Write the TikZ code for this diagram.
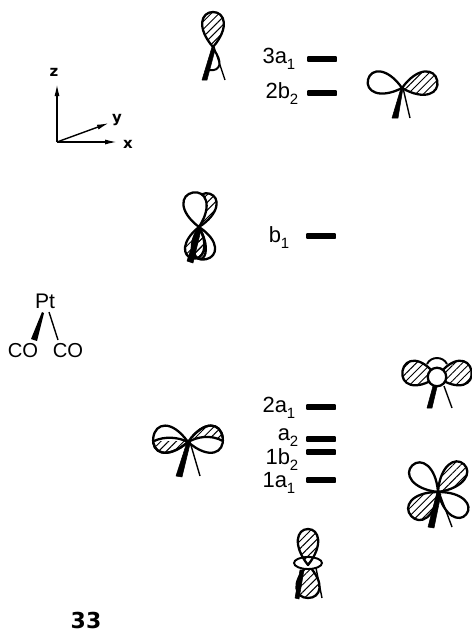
\documentclass[tikz,border=0pt]{standalone}
\usepackage{fontspec}
\setmainfont{Liberation Sans}
\newfontfamily\widefont{DejaVu Sans}
\usetikzlibrary{positioning, arrows.meta, patterns.meta}

% one lobe: base at the origin of the scope, pointing up
\newcommand{\lobe}[5][]{%
    \begin{scope}[shift={(#2)}, rotate=#3]
        \path[draw, line width=1.3pt, line join=round, #1] (0,0) .. controls (-#5*1.05,-#4*0.55) and (-#5*0.75,-#4) .. (0,-#4)
            .. controls (#5*0.75,-#4) and (#5*1.05,-#4*0.55) .. (0,0) -- cycle;
    \end{scope}}
\newcommand{\levsub}[1]{\lower3.5pt\hbox{\fontsize{8.5}{8.5}\selectfont #1}}

\begin{document}
\begin{tikzpicture}[
        x=0.02cm,
        y=-0.02cm,
        thick,
        hatched/.style={pattern={Lines[angle=45, distance=3.1pt, line width=0.55pt]}},
        blank/.style={fill=white},
        level/.style={rectangle, fill=black, rounded corners=0.5pt, minimum width=0.6cm, minimum height=0.115cm, inner sep=0pt},
        levlabel/.style={inner sep=0pt, font=\fontsize{12.5}{12.5}\selectfont, anchor=base east},
        axis/.style={draw, line width=0.8pt, -{Latex[length=0.24cm, width=0.1cm]}},
        axislabel/.style={inner sep=0pt, font=\fontsize{8.5}{8.5}\widefont\bfseries},
        atom/.style={inner sep=0pt, font=\fontsize{11.5}{11.5}\selectfont},
        thinleg/.style={draw, line width=0.8pt},
        thickleg/.style={fill=black, draw=black, line width=0.3pt, line join=round}
    ]
        \useasboundingbox (0,0) rectangle (472,633);

        % Axes
        \coordinate (Origin) at (57,142);
        \node[axislabel] (AxisZ) at (54,72) {z};
        \node[axislabel] (AxisY) at (117,120) {y};
        \node[axislabel] (AxisX) at (128,144) {x};
        \draw[axis] (Origin) -- (57,84);
        \draw[axis] (Origin) -- (109,123);
        \draw[axis] (Origin) -- (117,142);

        % Molecule
        \node[atom, font=\fontsize{12}{12}\selectfont] (Pt) at (45,301) {Pt};
        \node[atom] (COleft) at (23,351) {CO};
        \node[atom] (COright) at (68,351) {CO};
        \fill (42,312) -- (44,313) -- (37,341) -- (31,339) -- cycle;
        \draw[thinleg] (49,312) -- (58,340);

        % Levels
        \node[level] (L3a) at (322,59) {};
        \node[level] (L2b) at (322,93) {};
        \node[level] (Lb) at (321,236) {};
        \node[level] (L2a) at (321,407) {};
        \node[level] (La) at (321,439) {};
        \node[level] (L1b) at (321,452) {};
        \node[level] (L1a) at (321,480) {};
        \node[levlabel] (T3a) at (296,63) {3a\levsub{1}};
        \node[levlabel] (T2b) at (299,98) {2b\levsub{2}};
        \node[levlabel] (Tb) at (290,242) {b\levsub{1}};
        \node[levlabel] (T2a) at (296,412) {2a\levsub{1}};
        \node[levlabel] (Ta) at (299,440) {a\levsub{2}};
        \node[levlabel] (T1b) at (299,464) {1b\levsub{2}};
        \node[levlabel] (T1a) at (296,487) {1a\levsub{1}};

        % 3a1
        \draw[line width=1.1pt] (214,50) .. controls (222,60) and (222,72) .. (209,70);
        \lobe[hatched]{213,47}{0}{35}{16}
        \fill[thickleg] (212,47) -- (215,50) -- (207,80) -- (202,80) -- cycle;
        \draw[thinleg] (214,47) -- (225,80);

        % 2b2
        \lobe[blank]{402,88}{76}{35}{16}
        \lobe[hatched]{402,88}{-78}{36}{17}
        \fill[thickleg] (401,88) -- (403,88) -- (398,118) -- (392,118) -- cycle;
        \draw[thinleg] (403,88) -- (410,118);

        % b1
        \lobe[hatched]{199,227}{-18}{35}{15}
        \lobe[blank]{199,227}{10}{35}{17}
        \lobe[blank]{199,227}{192}{33}{17}
        \lobe[hatched]{199,227}{168}{32}{14}
        \lobe[hatched]{199,227}{182}{32}{9}
        \fill[thickleg] (198,227) -- (201,230) -- (193,263) -- (187,261) -- cycle;

        % a2
        \lobe[blank]{188,442}{83}{35}{20}
        \lobe[blank]{188,442}{-83}{35}{20}
        \begin{scope}
            \clip (150,441) rectangle (188,465);
            \lobe[hatched]{188,442}{83}{35}{20}
        \end{scope}
        \begin{scope}
            \clip (188,420) rectangle (226,437);
            \lobe[hatched]{188,442}{-83}{35}{20}
        \end{scope}
        \draw[line width=1.3pt] (154,441) .. controls (165,436) and (178,437) .. (188,442)
            .. controls (197,437) and (210,434) .. (223,441);
        \fill[thickleg] (187,442) -- (190,444) -- (182,477) -- (176,476) -- cycle;
        \draw[thinleg] (190,442) -- (200,476);

        % 2a1
        \draw[line width=1.1pt] (427,364) .. controls (431,356) and (443,356) .. (447,364);
        \lobe[hatched]{437,377}{80}{35}{18}
        \lobe[hatched]{437,377}{-80}{35}{18}
        \node[circle, draw, fill=white, line width=1.3pt, minimum size=0.37cm, inner sep=0pt] (Ring) at (437,377) {};
        \fill[thickleg] (433,386) -- (437,387) -- (432,408) -- (427,408) -- cycle;
        \draw[thinleg] (444,386) -- (452,408);

        % 1a1
        \lobe[blank]{438,492}{44}{37}{16}
        \lobe[hatched]{438,492}{-43}{38}{16}
        \lobe[hatched]{438,492}{132}{36}{17}
        \lobe[blank]{438,492}{-128}{36}{15}
        \fill[thickleg] (437,492) -- (441,494) -- (434,528) -- (428,527) -- cycle;
        \draw[thinleg] (439,492) -- (452,527);

        % 1b2
        \lobe[hatched]{308,565}{180}{33}{17}
        \draw[line width=1.1pt, fill=white] (308,563) ellipse (14 and 6);
        \lobe[hatched]{308,565}{0}{36}{15}
        \fill[thickleg] (300,570) -- (304,570) -- (299,599) -- (295,598) -- cycle;
        \draw[thinleg] (316,568) -- (322,598);

        % Label
        \node[inner sep=0pt, font=\fontsize{12.5}{12.5}\widefont\bfseries] (Num) at (86,620) {33};
\end{tikzpicture}
\end{document}
